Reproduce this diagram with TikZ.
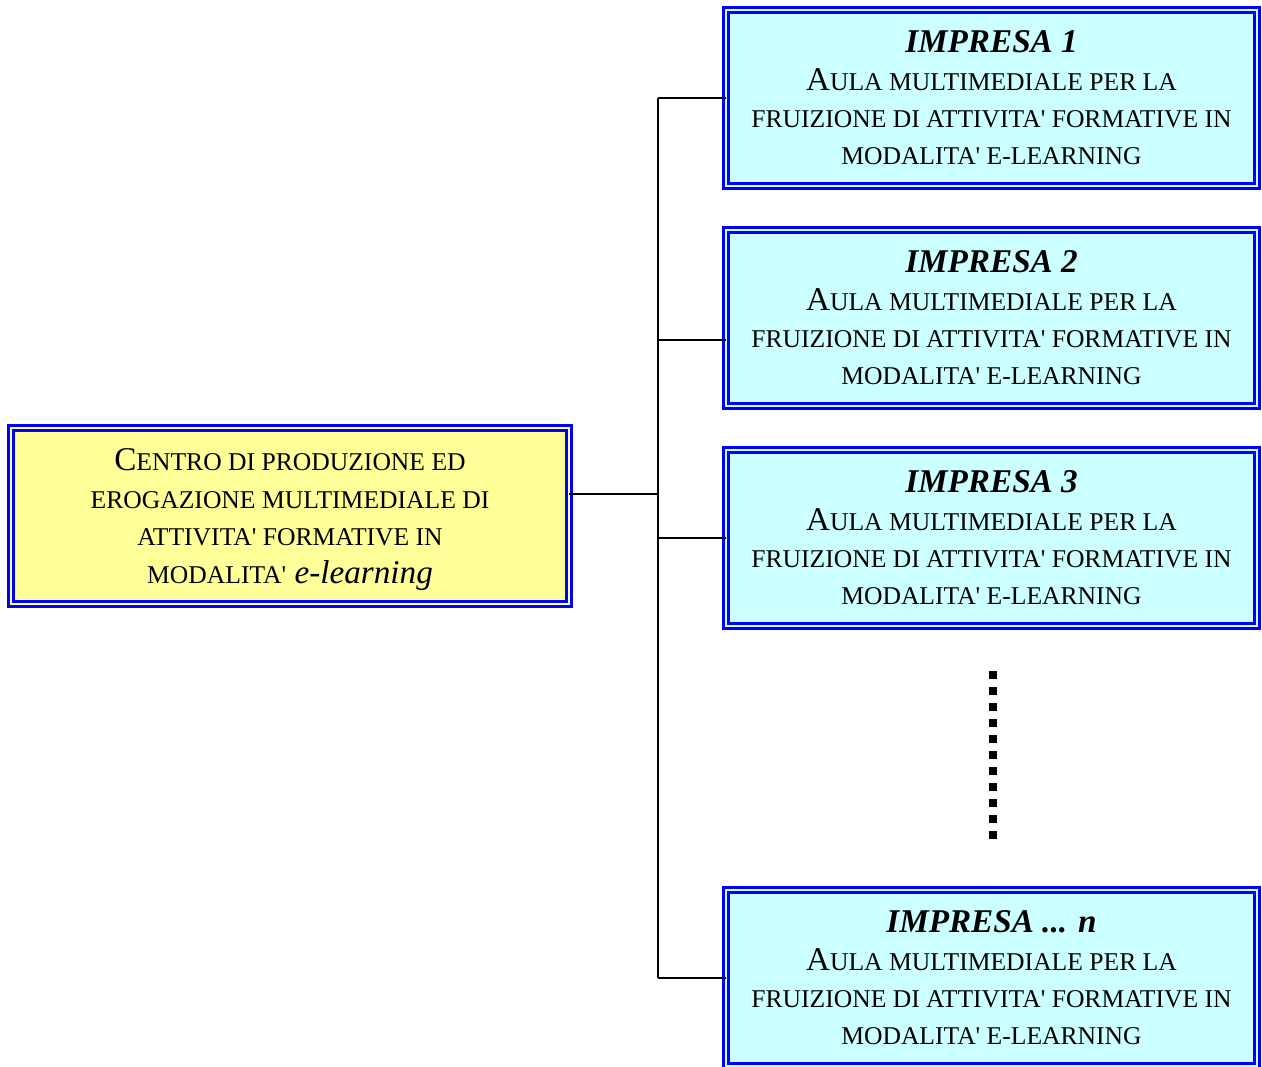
\documentclass[tikz,border=0pt]{standalone}
\usepackage{fontspec}
\setmainfont{Liberation Serif}
\usetikzlibrary{positioning}
\definecolor{aulafill}{HTML}{CCFFFF}
\definecolor{centrofill}{HTML}{FFFF99}
\newcommand{\sm}[1]{{\fontsize{12.8}{18.7}\selectfont #1}}
\newcommand{\ap}{\textquotesingle}
\newcommand{\aulatext}{A\sm{ULA MULTIMEDIALE PER LA}\\ \sm{FRUIZIONE DI ATTIVITA\ap{} FORMATIVE IN}\\ \sm{MODALITA\ap{} E-LEARNING}}

\begin{document}
\begin{tikzpicture}[x=0.5pt,y=-0.5pt,
		box/.style={draw=blue, line width=1.3pt, double distance=1.15pt, inner sep=0pt, outer sep=0pt,
			align=center, font=\fontsize{16.6}{18.7}\selectfont},
		aula/.style={box, fill=aulafill, double=aulafill, minimum width=265.6pt, minimum height=88pt},
		centro/.style={box, fill=centrofill, double=centrofill, minimum width=278.8pt, minimum height=88pt},
		link/.style={line width=1pt},
		dots/.style={line width=4pt, dash pattern=on 4pt off 4pt}]
	\useasboundingbox (0,0) rectangle (1262,1066);
	\node[centro] (centro) at (290,516.2) {C\sm{ENTRO DI PRODUZIONE ED}\\ \sm{EROGAZIONE MULTIMEDIALE DI}\\ \sm{ATTIVITA\ap{} FORMATIVE IN}\\ \sm{MODALITA\ap{}} \smash{\textit{e-learning}}};
	\node[aula] (imp1) at (991.5,98) {\textbf{\textit{IMPRESA 1}}\\ \aulatext};
	\node[aula, below=22pt of imp1] (imp2) {\textbf{\textit{IMPRESA 2}}\\ \aulatext};
	\node[aula, below=22pt of imp2] (imp3) {\textbf{\textit{IMPRESA 3}}\\ \aulatext};
	\node[aula, below=132pt of imp3] (impn) {\textbf{\textit{IMPRESA ... n}}\\ \aulatext};
	%
	\coordinate (top) at (658,98);
	\coordinate (bot) at (658,978);
	\path ([yshift=11pt]centro.east) coordinate (j0);
	\path ([yshift=-11pt]imp2.west) coordinate (j2);
	\draw[link] (top) -- (bot);
	\draw[link] (j0) -- (top |- j0);
	\draw[link] (top) -- (imp1.west);
	\draw[link] (top |- j2) -- (j2);
	\draw[link] (top |- imp3.west) -- (imp3.west);
	\draw[link] (bot) -- (impn.west);
	%
	\coordinate (d1) at (993,670.7);
	\coordinate (d2) at (993,838.7);
	\draw[dots] (d1) -- (d2);
\end{tikzpicture}
\end{document}
